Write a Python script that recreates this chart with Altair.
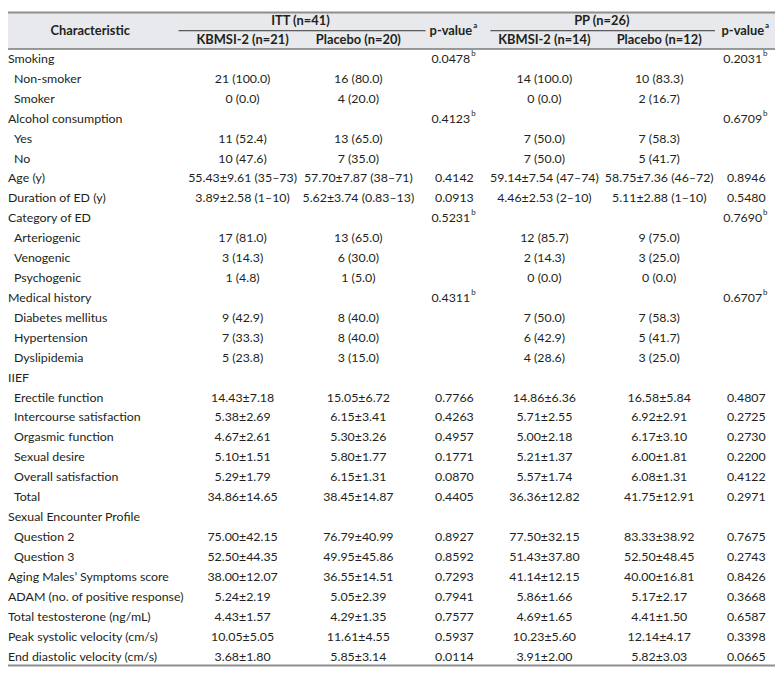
import altair as alt
import pandas as pd

labels = [
    "Smoking", "Non-smoker", "Smoker", "Alcohol consumption", "Yes", "No",
    "Age (y)", "Duration of ED (y)", "Category of ED", "Arteriogenic", "Venogenic",
    "Psychogenic", "Medical history", "Diabetes mellitus", "Hypertension",
    "Dyslipidemia", "IIEF", "Erectile function", "Intercourse satisfaction",
    "Orgasmic function", "Sexual desire", "Overall satisfaction", "Total",
    "Sexual Encounter Profile", "Question 2", "Question 3",
    "Aging Males\u2019 Symptoms score", "ADAM (no. of positive response)",
    "Total testosterone (ng/mL)", "Peak systolic velocity (cm/s)",
    "End diastolic velocity (cm/s)",
]
indent = [0, 1, 1, 0, 1, 1, 0, 0, 0, 1, 1, 1, 0, 1, 1, 1, 0, 1, 1, 1, 1, 1, 1,
          0, 1, 1, 0, 0, 0, 0, 0]
itt_kbmsi = [
    "", "21 (100.0)", "0 (0.0)", "", "11 (52.4)", "10 (47.6)",
    "55.43\u00b19.61 (35\u201373)", "3.89\u00b12.58 (1\u201310)", "",
    "17 (81.0)", "3 (14.3)", "1 (4.8)", "", "9 (42.9)", "7 (33.3)", "5 (23.8)",
    "", "14.43\u00b17.18", "5.38\u00b12.69", "4.67\u00b12.61", "5.10\u00b11.51",
    "5.29\u00b11.79", "34.86\u00b114.65", "", "75.00\u00b142.15", "52.50\u00b144.35",
    "38.00\u00b112.07", "5.24\u00b12.19", "4.43\u00b11.57", "10.05\u00b15.05",
    "3.68\u00b11.80",
]
itt_placebo = [
    "", "16 (80.0)", "4 (20.0)", "", "13 (65.0)", "7 (35.0)",
    "57.70\u00b17.87 (38\u201371)", "5.62\u00b13.74 (0.83\u201313)", "",
    "13 (65.0)", "6 (30.0)", "1 (5.0)", "", "8 (40.0)", "8 (40.0)", "3 (15.0)",
    "", "15.05\u00b16.72", "6.15\u00b13.41", "5.30\u00b13.26", "5.80\u00b11.77",
    "6.15\u00b11.31", "38.45\u00b114.87", "", "76.79\u00b140.99", "49.95\u00b145.86",
    "36.55\u00b114.51", "5.05\u00b12.39", "4.29\u00b11.35", "11.61\u00b14.55",
    "5.85\u00b13.14",
]
itt_p = [
    "0.0478", "", "", "0.4123", "", "", "0.4142", "0.0913", "0.5231", "", "", "",
    "0.4311", "", "", "", "", "0.7766", "0.4263", "0.4957", "0.1771", "0.0870",
    "0.4405", "", "0.8927", "0.8592", "0.7293", "0.7941", "0.7577", "0.5937",
    "0.0114",
]
itt_p_sup = [
    "b", "", "", "b", "", "", "", "", "b", "", "", "", "b", "", "", "", "", "",
    "", "", "", "", "", "", "", "", "", "", "", "", "",
]
pp_kbmsi = [
    "", "14 (100.0)", "0 (0.0)", "", "7 (50.0)", "7 (50.0)",
    "59.14\u00b17.54 (47\u201374)", "4.46\u00b12.53 (2\u201310)", "",
    "12 (85.7)", "2 (14.3)", "0 (0.0)", "", "7 (50.0)", "6 (42.9)", "4 (28.6)",
    "", "14.86\u00b16.36", "5.71\u00b12.55", "5.00\u00b12.18", "5.21\u00b11.37",
    "5.57\u00b11.74", "36.36\u00b112.82", "", "77.50\u00b132.15", "51.43\u00b137.80",
    "41.14\u00b112.15", "5.86\u00b11.66", "4.69\u00b11.65", "10.23\u00b15.60",
    "3.91\u00b12.00",
]
pp_placebo = [
    "", "10 (83.3)", "2 (16.7)", "", "7 (58.3)", "5 (41.7)",
    "58.75\u00b17.36 (46\u201372)", "5.11\u00b12.88 (1\u201310)", "",
    "9 (75.0)", "3 (25.0)", "0 (0.0)", "", "7 (58.3)", "5 (41.7)", "3 (25.0)",
    "", "16.58\u00b15.84", "6.92\u00b12.91", "6.17\u00b13.10", "6.00\u00b11.81",
    "6.08\u00b11.31", "41.75\u00b112.91", "", "83.33\u00b138.92", "52.50\u00b148.45",
    "40.00\u00b116.81", "5.17\u00b12.17", "4.41\u00b11.50", "12.14\u00b14.17",
    "5.82\u00b13.03",
]
pp_p = [
    "0.2031", "", "", "0.6709", "", "", "0.8946", "0.5480", "0.7690", "", "", "",
    "0.6707", "", "", "", "", "0.4807", "0.2725", "0.2730", "0.2200", "0.4122",
    "0.2971", "", "0.7675", "0.2743", "0.8426", "0.3668", "0.6587", "0.3398",
    "0.0665",
]
pp_p_sup = [
    "b", "", "", "b", "", "", "", "", "b", "", "", "", "b", "", "", "", "", "",
    "", "", "", "", "", "", "", "", "", "", "", "", "",
]

# header texts
groups = ["ITT (n=41)", "PP (n=26)"]
subheads = ["KBMSI-2 (n=21)", "Placebo (n=20)", "KBMSI-2 (n=14)", "Placebo (n=12)"]
pheads = ["p-value", "p-value"]
phead_sup = ["a", "a"]
char_head = "Characteristic"

# ---------------- layout ----------------
W, H = 775, 665
ROW0, ROWSTEP = 48.0, 20.13          # pixel of first body row and row pitch


def hrow(ypix):
    """header pixel position expressed in row units of the y scale"""
    return (ypix - ROW0) / ROWSTEP


# ---------------- build tables ----------------
body, psup_main, psup = [], [], []
for i, lab in enumerate(labels):
    body.append({"row": i, "col": indent[i], "text": lab, "kind": "label"})
    for c, arr in ((2, itt_kbmsi), (3, itt_placebo), (5, pp_kbmsi), (6, pp_placebo)):
        if arr[i]:
            body.append({"row": i, "col": c, "text": arr[i], "kind": "cell"})
    for c, arr, sup in ((4, itt_p, itt_p_sup), (7, pp_p, pp_p_sup)):
        if arr[i]:
            if sup[i]:
                psup_main.append({"row": i, "col": c, "text": arr[i]})
                psup.append({"row": i, "col": c, "text": sup[i]})
            else:
                body.append({"row": i, "col": c, "text": arr[i], "kind": "cell"})

body_df = pd.DataFrame(body)
psup_main_df = pd.DataFrame(psup_main)
psup_df = pd.DataFrame(psup)

head_sub_df = pd.DataFrame({"row": [hrow(29)] * 4, "col": [2, 3, 5, 6], "text": subheads})
head_grp_df = pd.DataFrame({"row": [hrow(10)] * 2, "col": [2.5, 5.5], "text": groups})
head_p_df = pd.DataFrame({"row": [hrow(19.5)] * 2, "col": [4, 7], "text": pheads})
head_psup_df = pd.DataFrame({"row": [hrow(19.5)] * 2, "col": [4, 7], "text": phead_sup})
head_char_df = pd.DataFrame({"row": [hrow(19.5)], "col": [0.5], "text": [char_head]})

FONT = "Lato"
FS = 12.5
HFS = 13
TXT = "#231f20"

xscale = alt.Scale(domain=[0, 0.5, 1, 2, 3, 4, 5, 6, 7],
                   range=[0, 83, 6, 237, 354, 451, 542, 658, 746])
yscale = alt.Scale(domain=[0, 30], range=[ROW0, ROW0 + 30 * ROWSTEP], nice=False, zero=False)

X = alt.X("col:Q", scale=xscale, axis=None)
Y = alt.Y("row:Q", scale=yscale, axis=None)

one = pd.DataFrame({"a": [0]})
bg = alt.Chart(one).mark_rect(color="#e7e9ec").encode(
    x=alt.value(0), x2=alt.value(W), y=alt.value(1), y2=alt.value(38))
top_line = alt.Chart(one).mark_rule(color="#8e8e8e", strokeWidth=2).encode(
    x=alt.value(0), x2=alt.value(W), y=alt.value(1))
head_line = alt.Chart(one).mark_rule(color="#7a7a7a", strokeWidth=1.5).encode(
    x=alt.value(0), x2=alt.value(W), y=alt.value(38))
bot_line = alt.Chart(one).mark_rule(color="#8e8e8e", strokeWidth=2).encode(
    x=alt.value(0), x2=alt.value(W), y=alt.value(661))
sub_lines = alt.Chart(pd.DataFrame({"a": [0, 1]})).mark_rule(color="#333333", strokeWidth=1).encode(
    x=alt.X("x1:Q", scale=xscale, axis=None), x2="x2:Q", y=alt.value(19.5)
).transform_calculate(
    x1="datum.a == 0 ? 1.72 : 4.4", x2="datum.a == 0 ? 3.7 : 6.64"
)

txt = dict(font=FONT, fontSize=FS, color=TXT, baseline="middle")

labels_layer = alt.Chart(body_df).transform_filter("datum.kind == 'label'").mark_text(
    align="left", **txt).encode(x=X, y=Y, text="text:N")
cells_layer = alt.Chart(body_df).transform_filter("datum.kind == 'cell'").mark_text(
    align="center", **txt).encode(x=X, y=Y, text="text:N")
pmain_layer = alt.Chart(psup_main_df).mark_text(align="right", dx=16, **txt).encode(
    x=X, y=Y, text="text:N")
psup_layer = alt.Chart(psup_df).mark_text(align="left", dx=17, dy=-5, font=FONT,
                                          fontSize=8, color=TXT, baseline="middle").encode(
    x=X, y=Y, text="text:N")

htxt = dict(font=FONT, fontSize=HFS, color=TXT, baseline="middle", fontWeight="bold")
hsub = alt.Chart(head_sub_df).mark_text(align="center", **htxt).encode(x=X, y=Y, text="text:N")
hgrp = alt.Chart(head_grp_df).mark_text(align="center", **htxt).encode(x=X, y=Y, text="text:N")
hp = alt.Chart(head_p_df).mark_text(align="right", dx=18, **htxt).encode(x=X, y=Y, text="text:N")
hpsup = alt.Chart(head_psup_df).mark_text(align="left", dx=19, dy=-5, font=FONT, fontSize=8,
                                          color=TXT, baseline="middle", fontWeight="bold").encode(
    x=X, y=Y, text="text:N")
hchar = alt.Chart(head_char_df).mark_text(align="center", **htxt).encode(x=X, y=Y, text="text:N")

chart = alt.layer(
    bg, top_line, head_line, bot_line, sub_lines,
    labels_layer, cells_layer, pmain_layer, psup_layer,
    hsub, hgrp, hp, hpsup, hchar,
).properties(width=W, height=H, padding=0, autosize=alt.AutoSizeParams(type="none")
).configure_view(stroke=None)

chart.save("out.html", embed_options={"renderer": "svg", "actions": False})
